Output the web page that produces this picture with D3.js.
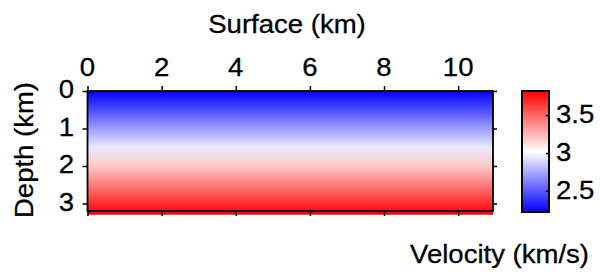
<!DOCTYPE html>
<html>
<head>
<meta charset="utf-8">
<script src="https://cdn.jsdelivr.net/npm/d3@7"></script>
<style>
  body { margin: 0; background: #fff; }
  text { font-family: "Liberation Sans", Arial, sans-serif; fill: #000; stroke: #000; stroke-width: 0.3px; }
</style>
</head>
<body>
<svg id="chart" width="600" height="278"></svg>
<script>
// velocity model (linear increase with depth)
var depths = [0, 0.5, 1, 1.5, 2, 2.5, 3, 3.3];
var velocities = [2.22, 2.46, 2.71, 2.95, 3.19, 3.43, 3.68, 3.82];
var surfaceTicks = [0, 2, 4, 6, 8, 10];
var depthTicks = [0, 1, 2, 3];
var cbarTicks = [2.5, 3, 3.5];
var cbarStops = [2.22, 3.02, 3.82];
var cbarColors = ["#0000ff", "#ffffff", "#ff0000"];

var fs = 25.5, stretch = 1.08;   // text in the reference is a bit wide

var svg = d3.select("#chart");
var x = d3.scaleLinear().domain([0, 10.94]).range([87.5, 493]);
var y = d3.scaleLinear().domain([0, 3.2]).range([91, 211]);
var c = d3.scaleLinear().domain(cbarStops).range(cbarColors);
var cy = d3.scaleLinear().domain([2.22, 3.82]).range([212, 91]);

var defs = svg.append("defs");

// model image
var g1 = defs.append("linearGradient").attr("id", "model")
    .attr("gradientUnits", "userSpaceOnUse")
    .attr("x1", 0).attr("x2", 0)
    .attr("y1", y(depths[0])).attr("y2", y(depths[depths.length - 1]));
g1.selectAll("stop").data(depths).enter().append("stop")
    .attr("offset", function (d) { return d / depths[depths.length - 1]; })
    .attr("stop-color", function (d, i) { return c(velocities[i]); });

svg.append("rect")
    .attr("x", x(0)).attr("y", y(depths[0]))
    .attr("width", x(10.94) - x(0))
    .attr("height", y(depths[depths.length - 1]) - y(depths[0]))
    .attr("fill", "url(#model)");

// axes (ticks only; frame drawn separately)
function styleAxis(sel) {
    sel.select(".domain").remove();
    sel.selectAll(".tick line").attr("stroke", "#000").attr("stroke-width", 1.5);
    sel.selectAll("text").remove();
}
svg.append("g").attr("transform", "translate(0," + y(0) + ")")
    .call(d3.axisTop(x).tickValues(surfaceTicks).tickSize(5)).call(styleAxis);
svg.append("g").attr("transform", "translate(0," + y(3.2) + ")")
    .call(d3.axisBottom(x).tickValues(surfaceTicks).tickSize(5)).call(styleAxis);
svg.append("g").attr("transform", "translate(" + x(0) + ",0)")
    .call(d3.axisLeft(y).tickValues(depthTicks).tickSize(5)).call(styleAxis);
svg.append("g").attr("transform", "translate(" + x(10.94) + ",0)")
    .call(d3.axisRight(y).tickValues(depthTicks).tickSize(4)).call(styleAxis);

svg.append("rect")
    .attr("x", x(0)).attr("y", y(0))
    .attr("width", x(10.94) - x(0)).attr("height", y(3.2) - y(0))
    .attr("fill", "none").attr("stroke", "#000").attr("stroke-width", 1.8);

function label(sel, tx, ty, rot, anchor, txt) {
    return sel.append("text")
        .attr("transform", "translate(" + tx + "," + ty + ")" + (rot ? " rotate(" + rot + ")" : "") + " scale(" + stretch + ",1)")
        .attr("text-anchor", anchor)
        .style("font-size", fs + "px")
        .text(txt);
}

surfaceTicks.forEach(function (t) { label(svg, x(t), 76, 0, "middle", t); });
depthTicks.forEach(function (t) { label(svg, 74, y(t) + 7, 0, "end", t); });

label(svg, 287, 33, 0, "middle", "Surface (km)");
label(svg, 33, 150, -90, "middle", "Depth (km)");

// colorbar
var g2 = defs.append("linearGradient").attr("id", "cbar")
    .attr("gradientUnits", "userSpaceOnUse")
    .attr("x1", 0).attr("x2", 0)
    .attr("y1", cy(cbarStops[0])).attr("y2", cy(cbarStops[cbarStops.length - 1]));
g2.selectAll("stop").data(cbarStops).enter().append("stop")
    .attr("offset", function (d) { return (d - cbarStops[0]) / (cbarStops[cbarStops.length - 1] - cbarStops[0]); })
    .attr("stop-color", function (d) { return c(d); });

var cbx = 522, cbw = 27;
svg.append("rect")
    .attr("x", cbx).attr("y", cy(3.82))
    .attr("width", cbw).attr("height", cy(2.22) - cy(3.82))
    .attr("fill", "url(#cbar)")
    .attr("stroke", "#000").attr("stroke-width", 2);

svg.append("g").attr("transform", "translate(" + (cbx + cbw) + ",0)")
    .call(d3.axisLeft(cy).tickValues(cbarTicks).tickSize(3)).call(styleAxis);

cbarTicks.forEach(function (t) { label(svg, 556, cy(t) + 8, 0, "start", t); });

label(svg, 589, 263, 0, "end", "Velocity (km/s)");
</script>
</body>
</html>
